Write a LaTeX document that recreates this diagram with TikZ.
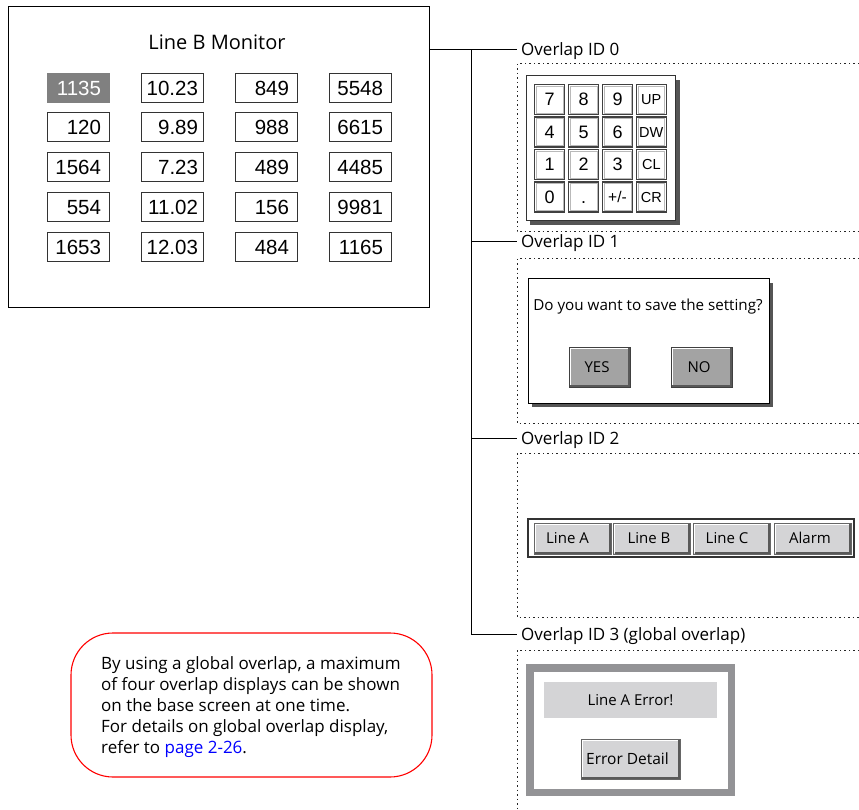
\documentclass[tikz,border=0pt]{standalone}
\usepackage{fontspec}
\setmainfont{Open Sans}
\newfontfamily\arialf{Liberation Sans}
\usetikzlibrary{calc}
\definecolor{btngray}{HTML}{A3A3A3}
\definecolor{lightbtn}{HTML}{D4D4D6}
\definecolor{framegray}{HTML}{939396}
\definecolor{shadowgray}{HTML}{555555}
\definecolor{selgray}{HTML}{808080}
\newcommand\myfs[1]{\fontsize{#1}{#1}\selectfont}
\newcommand\bevelit[1]{%
  \draw[white, line width=1.2] ([shift={(1.8,-1.8)}]#1.south west) |- ([shift={(-1.8,1.8)}]#1.north east);
  \draw[black!65, line width=1.6] ([shift={(1.8,-1.8)}]#1.south west) -| ([shift={(-1.8,1.8)}]#1.north east);
}
\newcommand\keyinner[1]{%
  \draw[gray!55, line width=0.7] ([shift={(2.2,2.2)}]#1.north west) rectangle ([shift={(-2.2,-2.2)}]#1.south east);
}
\tikzset{
  valbox/.style={draw=black!80, line width=1, minimum height=29, text width=46, inner xsep=8, inner ysep=0, align=right, font=\arialf\myfs{20.5}},
  valboxw/.style={valbox, text width=52, inner xsep=5},
  ovl/.style={font=\myfs{17}, inner xsep=4, inner ysep=0, text height=12pt, text depth=0pt},
  dotbox/.style={draw=black!85, line width=1, dash pattern=on 1.5pt off 3pt},
  keybox/.style={draw=black!75, line width=1.2, fill=white, minimum width=30, minimum height=30, inner sep=0, text height=13pt, text depth=0pt, font=\arialf\myfs{18}},
  keyboxs/.style={keybox, text height=10.5pt, font=\arialf\myfs{14.5}},
  dlgbtn/.style={draw=black!75, line width=1, fill=btngray, minimum width=61, minimum height=40, inner sep=0, text height=10.8pt, text depth=0pt, font=\myfs{15}},
  tabbtn/.style={draw=black!60, line width=1, fill=lightbtn, minimum width=77, minimum height=31, inner sep=0, text height=10.8pt, text depth=0pt, font=\myfs{15}},
}
\begin{document}
\begin{tikzpicture}[x=1pt,y=-1pt]
\useasboundingbox (0,0) rectangle (859,810);

% ---------- base screen ----------
\node[draw, line width=1, minimum width=421, minimum height=300, inner sep=0] (monitor) at (218.5,157) {};
\node[font=\myfs{20}] (title) at (217,42) {Line B Monitor};

\node[valbox, fill=selgray, draw=selgray, text=white] (v11) at (78,88.5) {1135};
\node[valboxw] (v12) at (172,88.5) {10.23};
\node[valbox] (v13) at (266,88.5) {849};
\node[valbox] (v14) at (360,88.5) {5548};
\node[valbox] (v21) at (78,127.5) {120};
\node[valboxw] (v22) at (172,127.5) {9.89};
\node[valbox] (v23) at (266,127.5) {988};
\node[valbox] (v24) at (360,127.5) {6615};
\node[valbox] (v31) at (78,167.5) {1564};
\node[valboxw] (v32) at (172,167.5) {7.23};
\node[valbox] (v33) at (266,167.5) {489};
\node[valbox] (v34) at (360,167.5) {4485};
\node[valbox] (v41) at (78,207.5) {554};
\node[valboxw] (v42) at (172,207.5) {11.02};
\node[valbox] (v43) at (266,207.5) {156};
\node[valbox] (v44) at (360,207.5) {9981};
\node[valbox] (v51) at (78,247.5) {1653};
\node[valboxw] (v52) at (172,247.5) {12.03};
\node[valbox] (v53) at (266,247.5) {484};
\node[valbox] (v54) at (360,247.5) {1165};

% ---------- tree labels and connectors ----------
\node[ovl, anchor=west] (lab0) at (517,49.5) {Overlap ID 0};
\node[ovl, anchor=west] (lab1) at (517,242) {Overlap ID 1};
\node[ovl, anchor=west] (lab2) at (517,438) {Overlap ID 2};
\node[ovl, anchor=west] (lab3) at (517,634) {Overlap ID 3 (global overlap)};
\coordinate (trunktop) at (471,49.5);
\coordinate (trunkbot) at (471,634);
\draw[line width=1] (monitor.east |- lab0.west) -- (lab0.west);
\draw[line width=1] (trunktop) -- (trunkbot) -- (lab3.west);
\draw[line width=1] (trunktop |- lab1.west) -- (lab1.west);
\draw[line width=1] (trunktop |- lab2.west) -- (lab2.west);

% ---------- dotted overlap areas ----------
\draw[dotbox] (859,64) -| (517,232) -- (859,232);
\draw[dotbox] (859,259) -| (517,423) -- (859,423);
\draw[dotbox] (859,453) -| (517,617) -- (859,617);
\draw[dotbox] (859,650) -| (517,810);

% ---------- ID 0: keypad ----------
\fill[shadowgray] (530,80) rectangle (679.5,225);
\node[draw=black!80, line width=1, fill=white, minimum width=149, minimum height=145, inner sep=0] (kpad) at (600.5,148.5) {};
\foreach \nm/\x/\y/\t in {k11/549.5/99.5/7, k12/583.5/99.5/8, k13/617.5/99.5/9,
                          k21/549.5/132/4, k22/583.5/132/5, k23/617.5/132/6,
                          k31/549.5/164.5/1, k32/583.5/164.5/2, k33/617.5/164.5/3,
                          k41/549.5/197/0, k42/583.5/197/.}{
  \node[keybox] (\nm) at (\x,\y) {\t};
  \keyinner{\nm}
}
\node[keyboxs, text height=12pt, font=\arialf\myfs{15.5}] (k43) at (617.5,197) {+/-};
\keyinner{k43}
\foreach \nm/\y/\t in {k14/99.5/UP, k24/132/DW, k34/164.5/CL, k44/197/CR}{
  \node[keyboxs] (\nm) at (651.3,\y) {\t};
  \keyinner{\nm}
}

% ---------- ID 1: dialog ----------
\fill[shadowgray] (532,283) rectangle (773,407);
\node[draw, line width=1, fill=white, minimum width=241, minimum height=124, inner sep=0] (dlg) at (648.5,341) {};
\node[font=\myfs{15.2}] (question) at (648,307) {Do you want to save the setting?};
\node[dlgbtn] (yes) at (599.5,367) {YES\hspace*{5pt}};
\bevelit{yes}
\node[dlgbtn] (no) at (701.5,367) {NO\hspace*{5pt}};
\bevelit{no}

% ---------- ID 2: tab bar ----------
\node[draw=black!80, line width=1.2, fill=white, minimum width=326, minimum height=38, inner sep=0] (bar) at (691,538) {};
\node[tabbtn] (tA) at (572.5,538.5) {Line A\hspace*{10pt}};
\bevelit{tA}
\node[tabbtn] (tB) at (652,538.5) {Line B\hspace*{6pt}};
\bevelit{tB}
\node[tabbtn] (tC) at (732,538.5) {Line C\hspace*{10pt}};
\bevelit{tC}
\node[tabbtn] (tD) at (813,538.5) {Alarm\hspace*{6pt}};
\bevelit{tD}

% ---------- ID 3: global overlap ----------
\node[draw=framegray, line width=7.5, fill=white, minimum width=201.5, minimum height=124.5, inner sep=0] (gframe) at (630.5,730) {};
\node[fill=lightbtn, minimum width=173, minimum height=36, inner sep=0, text height=10.8pt, text depth=0pt, font=\myfs{15}] (errmsg) at (630.5,700) {Line A Error!};
\node[tabbtn, minimum width=99, minimum height=40, font=\myfs{15.5}] (errbtn) at (630.5,759) {Error Detail\hspace*{6pt}};
\bevelit{errbtn}

% ---------- note ----------
\node[draw=red, line width=1.1, rounded corners=42, minimum width=361, minimum height=144, inner sep=0] (note) at (251.5,705) {};
\node[anchor=north west, align=left, inner sep=0, font={\fontsize{17}{21}\selectfont}] (notetext) at (101,656)
  {By using a global overlap, a maximum\\of four overlap displays can be shown\\on the base screen at one time.\\For details on global overlap display,\\refer to {\color{blue}page 2-26}.};
\end{tikzpicture}
\end{document}
